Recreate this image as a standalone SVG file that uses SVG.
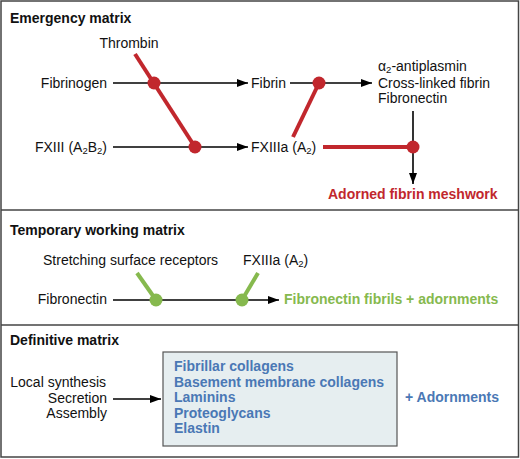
<svg xmlns="http://www.w3.org/2000/svg" width="520" height="459" viewBox="0 0 520 459">
<defs>
<marker id="ah" viewBox="0 0 11 10" refX="11" refY="5" markerWidth="11" markerHeight="10" markerUnits="userSpaceOnUse" orient="auto">
<path d="M0,1 L11,5 L0,9 Z" fill="#000"/>
</marker>
<style>
text{font-family:"Liberation Sans",Arial,sans-serif;font-size:14px;fill:#111}
.t{font-weight:bold}
.red{fill:#c1272d;font-weight:bold}
.grn{fill:#86b94e;font-weight:bold}
.blu{fill:#4a78b5;font-weight:bold}
.r{text-anchor:end}
.sub{font-size:9.5px}
.ln{stroke:#000;stroke-width:1.6;fill:none}
.rl{stroke:#c1272d;stroke-width:4;fill:none}
.gl{stroke:#86b94e;stroke-width:4;fill:none}
.rd{fill:#c1272d}
.gd{fill:#86b94e}
</style>
</defs>
<rect width="520" height="459" fill="#fff"/>
<g id="frame" fill="none" stroke="#444" stroke-width="1.5">
<rect x="1" y="1" width="517.5" height="456"/>
<line x1="1" y1="210" x2="518.5" y2="210"/>
<line x1="1" y1="325" x2="518.5" y2="325"/>
</g>
<g id="titles">
<text class="t" x="10" y="23">Emergency matrix</text>
<text class="t" x="10" y="235">Temporary working matrix</text>
<text class="t" x="10" y="345">Definitive matrix</text>
</g>
<g id="connectors">
<line class="ln" x1="113" y1="83" x2="248" y2="83" marker-end="url(#ah)"/>
<line class="ln" x1="290" y1="83" x2="372" y2="83" marker-end="url(#ah)"/>
<line class="ln" x1="113" y1="147" x2="248" y2="147" marker-end="url(#ah)"/>
<line class="ln" x1="413" y1="111" x2="413" y2="184" marker-end="url(#ah)"/>
<line class="rl" x1="135" y1="54" x2="195" y2="147"/>
<line class="rl" x1="293" y1="137" x2="319" y2="83"/>
<line class="rl" x1="323" y1="147" x2="413" y2="147"/>
<line class="ln" x1="113" y1="300" x2="279" y2="300" marker-end="url(#ah)"/>
<line class="gl" x1="137" y1="273" x2="156" y2="300"/>
<line class="gl" x1="258" y1="273" x2="242" y2="300"/>
<line class="ln" x1="113" y1="399" x2="161" y2="399" marker-end="url(#ah)"/>
</g>
<g id="dots">
<circle class="rd" cx="154" cy="83" r="6.5"/>
<circle class="rd" cx="195" cy="147" r="6.5"/>
<circle class="rd" cx="319" cy="83" r="6.5"/>
<circle class="rd" cx="413" cy="147" r="6.5"/>
<circle class="gd" cx="156" cy="300" r="6.5"/>
<circle class="gd" cx="242" cy="300" r="6.5"/>
</g>
<g id="thrombin"><text x="129" y="48" text-anchor="middle">Thrombin</text></g>
<g id="fibrinogen"><text class="r" x="107" y="88">Fibrinogen</text></g>
<g id="fxiii"><text class="r" x="107" y="152">FXIII (A<tspan class="sub" dy="2">2</tspan><tspan dy="-2">B</tspan><tspan class="sub" dy="2">2</tspan><tspan dy="-2">)</tspan></text></g>
<g id="fibrin"><text x="251" y="88">Fibrin</text></g>
<g id="fxiiia"><text x="251" y="152">FXIIIa (A<tspan class="sub" dy="2">2</tspan><tspan dy="-2">)</tspan></text></g>
<g id="products">
<text x="378" y="71">α<tspan class="sub" dy="2">2</tspan><tspan dy="-2">-antiplasmin</tspan></text>
<text x="378" y="88">Cross-linked fibrin</text>
<text x="378" y="103">Fibronectin</text>
</g>
<g id="adorned"><text class="red" x="328" y="199">Adorned fibrin meshwork</text></g>
<g id="stretching"><text x="43" y="265">Stretching surface receptors</text></g>
<g id="fxiiia2"><text x="243" y="265">FXIIIa (A<tspan class="sub" dy="2">2</tspan><tspan dy="-2">)</tspan></text></g>
<g id="fibronectin2"><text class="r" x="107" y="304">Fibronectin</text></g>
<g id="fibrils"><text class="grn" x="284" y="304">Fibronectin fibrils + adornments</text></g>
<g id="sources">
<text class="r" x="106" y="387">Local synthesis</text>
<text class="r" x="107" y="403">Secretion</text>
<text class="r" x="107" y="418">Assembly</text>
</g>
<g id="components">
<rect x="163" y="352" width="234" height="94" fill="#e6eef0" stroke="#555" stroke-width="1.2"/>
<text class="blu" x="174" y="371">Fibrillar collagens</text>
<text class="blu" x="174" y="387">Basement membrane collagens</text>
<text class="blu" x="174" y="402">Laminins</text>
<text class="blu" x="174" y="418">Proteoglycans</text>
<text class="blu" x="174" y="433">Elastin</text>
</g>
<g id="adornments"><text class="blu" x="405" y="402">+ Adornments</text></g>
</svg>
